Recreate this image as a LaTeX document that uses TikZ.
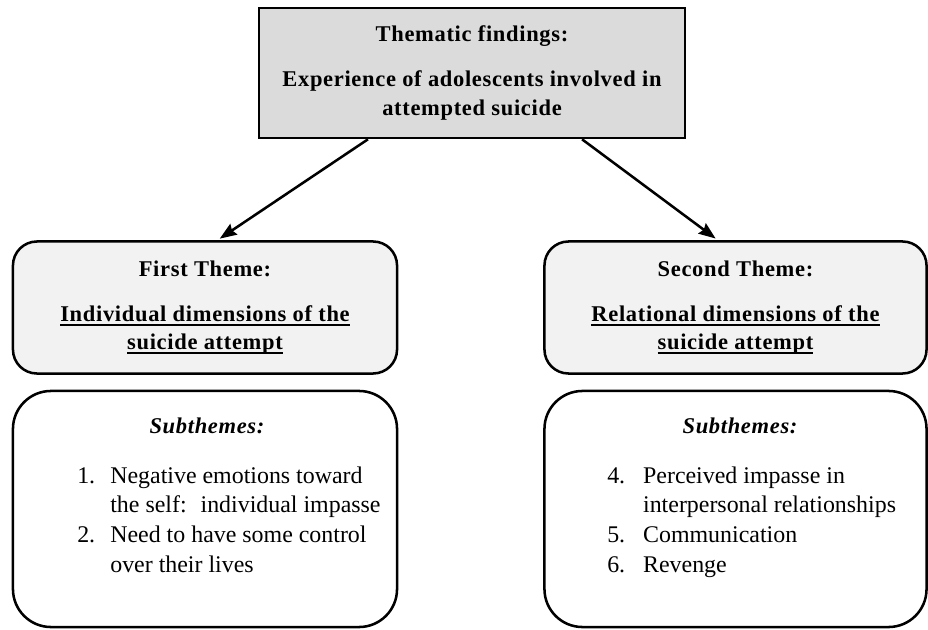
\documentclass[tikz,border=0pt]{standalone}
\usepackage{fontspec}
\setmainfont{Liberation Serif}
\newfontfamily\headfont[LetterSpace=3]{Liberation Serif}
\usetikzlibrary{arrows.meta}

% thick underline for the theme titles
\newcommand{\thickul}[1]{\setbox0\hbox{#1}\leavevmode\rlap{\rule[-3.2pt]{\wd0}{1.1pt}}\box0}

\begin{document}
\begin{tikzpicture}[x=0.025cm,y=-0.025cm]
  \useasboundingbox (0,0) rectangle (928,630);

  \begin{scope}[every node/.style={draw,line width=1.8pt,align=center,
      font=\headfont\bfseries\fontsize{16}{20}\selectfont}]
    \node[fill=gray!28,minimum width=10.65cm,minimum height=3.25cm] (top) at (472,73)
      {Thematic findings:\\[12pt]Experience of adolescents involved in\\attempted suicide};
    \node[fill=gray!10,rounded corners=0.6cm,minimum width=9.6cm,minimum height=3.3cm] (themeL) at (205,307.5)
      {First Theme:\\[12pt]\thickul{Individual dimensions of the}\\\thickul{suicide attempt}};
    \node[fill=gray!10,rounded corners=0.6cm,minimum width=9.55cm,minimum height=3.3cm] (themeR) at (735.5,307.5)
      {Second Theme:\\[12pt]\thickul{Relational dimensions of the}\\\thickul{suicide attempt}};
    \node[fill=white,rounded corners=0.95cm,minimum width=9.6cm,minimum height=5.9cm] (subL) at (205,509) {};
    \node[fill=white,rounded corners=0.95cm,minimum width=9.55cm,minimum height=5.9cm] (subR) at (735.5,509) {};
  \end{scope}

  \begin{scope}[every node/.style={font=\fontsize{17}{21.3}\selectfont}]
    \node[font=\headfont\bfseries\itshape\fontsize{16}{20}\selectfont] (subtitleL) at (207,426) {Subthemes:};
    \node[font=\headfont\bfseries\itshape\fontsize{16}{20}\selectfont] (subtitleR) at (740,426) {Subthemes:};
    \node[anchor=base west,inner sep=0pt] (listL) at (77,483)
      {\begin{tabular}[t]{@{}p{23.5pt}@{}l@{}}
        1. & Negative emotions toward\\
           & the self: \ individual impasse\\
        2. & Need to have some control\\
           & over their lives
      \end{tabular}};
    \node[anchor=base west,inner sep=0pt] (listR) at (607,483)
      {\begin{tabular}[t]{@{}p{25.5pt}@{}l@{}}
        4. & Perceived impasse in\\
           & interpersonal relationships\\
        5. & Communication\\
        6. & Revenge
      \end{tabular}};
  \end{scope}

  \begin{scope}[>={Stealth[length=12pt,width=9pt,inset=1.5pt]},line width=1.8pt]
    \draw[->,shorten >=2pt] ([xshift=-2.6cm]top.south) -- ([xshift=0.31cm]themeL.north);
    \draw[->,shorten >=2pt] ([xshift=2.75cm]top.south) -- ([xshift=-0.44cm]themeR.north);
  \end{scope}
\end{tikzpicture}
\end{document}
